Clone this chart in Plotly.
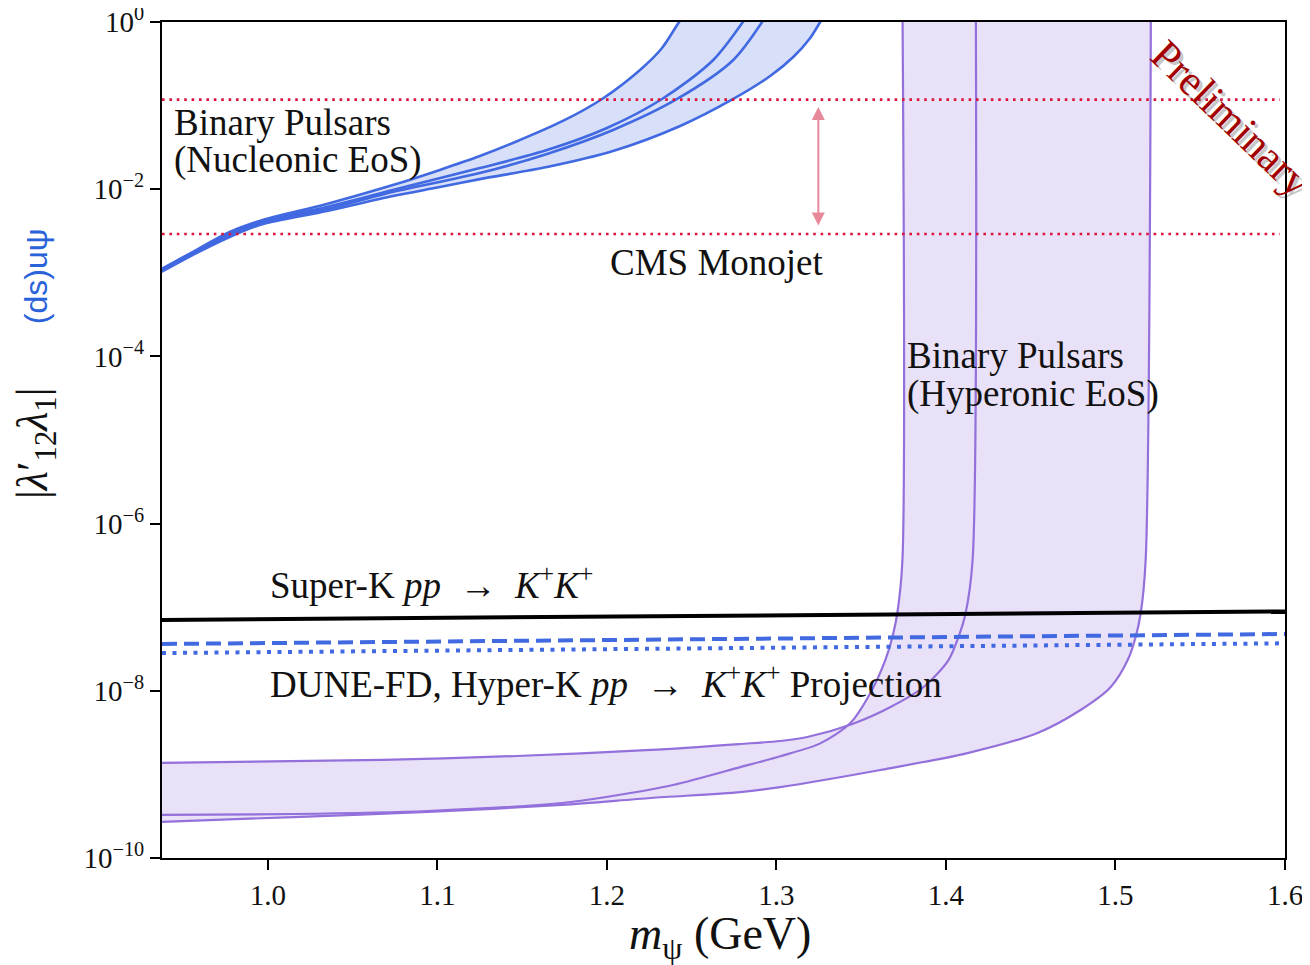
import math
import plotly.graph_objects as go

# ---------------- data (m_psi in GeV, coupling |lambda'_12 lambda_1|) ----------------
# Binary pulsars, nucleonic EoS band (4 curves)
nuc1_m = [0.936, 0.9555, 0.9774, 0.9951, 1.0347, 1.0737, 1.1014, 1.1250, 1.1445, 1.1740, 1.1971, 1.2195, 1.2325, 1.2414, 1.2483]
nuc1_y = [1.08e-3, 1.77e-3, 3.08e-3, 4.17e-3, 6.65e-3, 1.12e-2, 1.70e-2, 2.49e-2, 3.57e-2, 6.55e-2, 0.120, 0.267, 0.489, 0.921, 1.5]
nuc2_m = [0.936, 0.9774, 0.9951, 1.0347, 1.0736, 1.1250, 1.1646, 1.2000, 1.2325, 1.2627, 1.2862]
nuc2_y = [1.05e-3, 2.91e-3, 4.06e-3, 6.12e-3, 9.77e-3, 1.79e-2, 2.94e-2, 5.40e-2, 0.120, 0.351, 1.5]
nuc3_m = [0.936, 0.9774, 0.9951, 1.0347, 1.0736, 1.1250, 1.1646, 1.2036, 1.2414, 1.2745, 1.2972]
nuc3_y = [1.02e-3, 2.83e-3, 3.94e-3, 5.79e-3, 9.27e-3, 1.56e-2, 2.64e-2, 5.11e-2, 0.120, 0.351, 1.5]
nuc4_m = [0.936, 0.9555, 0.9774, 0.9951, 1.0347, 1.0737, 1.1014, 1.1250, 1.1646, 1.2036, 1.2432, 1.2745, 1.2963, 1.3099, 1.3199, 1.3258, 1.3312]
nuc4_y = [9.95e-4, 1.63e-3, 2.68e-3, 3.73e-3, 5.48e-3, 8.29e-3, 1.06e-2, 1.32e-2, 1.84e-2, 2.86e-2, 5.70e-2, 0.120, 0.226, 0.381, 0.644, 1.0, 1.5]

# Binary pulsars, hyperonic EoS (3 curves)
hypA_m = [1.3743, 1.3743, 1.3713, 1.3684, 1.3642, 1.3554, 1.3436, 1.3258, 1.3022, 1.2786, 1.2390, 1.1995, 1.1735, 1.0943, 1.0152, 0.936]
hypA_y = [2.0, 3.67e-7, 8.53e-8, 4.41e-8, 2.33e-8, 9.42e-9, 4.12e-9, 2.35e-9, 1.65e-9, 1.22e-9, 7.46e-10, 5.37e-10, 4.55e-10, 3.65e-10, 3.36e-10, 3.27e-10]
hypB_m = [1.4176, 1.4157, 1.4116, 1.4074, 1.4015, 1.3868, 1.3673, 1.3448, 1.3182, 1.3022, 1.2786, 1.2260, 1.1469, 1.0677, 0.936]
hypB_y = [2.0, 3.67e-7, 8.53e-8, 4.41e-8, 2.33e-8, 1.11e-8, 6.40e-9, 4.01e-9, 2.80e-9, 2.51e-9, 2.31e-9, 1.96e-9, 1.66e-9, 1.49e-9, 1.37e-9]
hypC_m = [1.5209, 1.5178, 1.5149, 1.5119, 1.5072, 1.4972, 1.4794, 1.4540, 1.4127, 1.3613, 1.3022, 1.2786, 1.2260, 1.1735, 1.0943, 1.0152, 0.936]
hypC_y = [2.0, 3.67e-7, 8.53e-8, 4.41e-8, 2.33e-8, 1.11e-8, 5.89e-9, 3.13e-9, 1.80e-9, 1.13e-9, 7.06e-10, 6.15e-10, 5.22e-10, 4.31e-10, 3.55e-10, 3.09e-10, 2.70e-10]

# Horizontal limits
line_m = [0.9375, 1.6]
superk_y = [7.03e-8, 8.89e-8]
dune_y = [3.63e-8, 4.78e-8]
hyperk_y = [2.83e-8, 3.70e-8]
cms_m = [0.9375, 1.597]
cms_upper_y = [0.118, 0.118]
cms_lower_y = [2.91e-3, 2.91e-3]

# Arrow between CMS lines
arrow_m = 1.3247
arrow_top = 0.096
arrow_bot = 3.53e-3

x_ticks = [1.0, 1.1, 1.2, 1.3, 1.4, 1.5, 1.6]
x_ticktext = ["1.0", "1.1", "1.2", "1.3", "1.4", "1.5", "1.6"]
y_ticks = [1e-10, 1e-8, 1e-6, 1e-4, 1e-2, 1]
y_ticktext = ["10<sup>−10</sup>", "10<sup>−8</sup>", "10<sup>−6</sup>", "10<sup>−4</sup>", "10<sup>−2</sup>", "10<sup>0</sup>"]

# ---------------- styles ----------------
BLUE = "#4169E1"
BLUE_FILL = "rgba(65,105,225,0.21)"
PURPLE = "#9370DB"
PURPLE_FILL = "#E8E1F7"
RED = "#DC143C"
SERIF = "Liberation Serif"
SP = "\u2002"

fig = go.Figure()

def fill_boundary(m, y):
    return go.Scatter(x=m, y=y, mode="lines", line=dict(width=0, shape="spline", smoothing=0.8),
                      hoverinfo="skip", showlegend=False)

# hyperonic fills (opaque, union of two bands)
fig.add_trace(fill_boundary(hypA_m, hypA_y))
t = fill_boundary(hypC_m, hypC_y); t.fill = "tonexty"; t.fillcolor = PURPLE_FILL
fig.add_trace(t)
fig.add_trace(fill_boundary(hypB_m, hypB_y))
t = fill_boundary(hypC_m, hypC_y); t.fill = "tonexty"; t.fillcolor = PURPLE_FILL
fig.add_trace(t)

# nucleonic fill
fig.add_trace(fill_boundary(nuc1_m, nuc1_y))
t = fill_boundary(nuc4_m, nuc4_y); t.fill = "tonexty"; t.fillcolor = BLUE_FILL
fig.add_trace(t)

# curve lines
for m, y in [(hypA_m, hypA_y), (hypB_m, hypB_y), (hypC_m, hypC_y)]:
    fig.add_trace(go.Scatter(x=m, y=y, mode="lines",
                             line=dict(color=PURPLE, width=2.2, shape="spline", smoothing=0.8),
                             hoverinfo="skip", showlegend=False))
for m, y in [(nuc1_m, nuc1_y), (nuc2_m, nuc2_y), (nuc3_m, nuc3_y), (nuc4_m, nuc4_y)]:
    fig.add_trace(go.Scatter(x=m, y=y, mode="lines",
                             line=dict(color=BLUE, width=2.6, shape="spline", smoothing=0.8),
                             hoverinfo="skip", showlegend=False))

# CMS monojet dotted lines
for y in (cms_upper_y, cms_lower_y):
    fig.add_trace(go.Scatter(x=cms_m, y=y, mode="lines",
                             line=dict(color=RED, width=2.6, dash="2.6px,4.8px"),
                             hoverinfo="skip", showlegend=False))

# Super-K and projections
fig.add_trace(go.Scatter(x=line_m, y=superk_y, mode="lines", line=dict(color="black", width=4),
                         hoverinfo="skip", showlegend=False))
fig.add_trace(go.Scatter(x=line_m, y=dune_y, mode="lines", line=dict(color=BLUE, width=4, dash="15px,7px"),
                         hoverinfo="skip", showlegend=False))
fig.add_trace(go.Scatter(x=line_m, y=hyperk_y, mode="lines", line=dict(color=BLUE, width=4, dash="4px,6.5px"),
                         hoverinfo="skip", showlegend=False))

def lg(v):
    return math.log10(v)

txt_font = dict(family=SERIF, size=37, color="#111111")
annotations = [
    dict(x=0.9432, y=-1.208, text="Binary Pulsars", xanchor="left", yanchor="middle"),
    dict(x=0.9432, y=-1.651, text="(Nucleonic EoS)", xanchor="left", yanchor="middle"),
    dict(x=1.2006, y=-2.871, text="CMS Monojet", xanchor="left", yanchor="middle"),
    dict(x=1.3761, y=-3.995, text="Binary Pulsars", xanchor="left", yanchor="middle"),
    dict(x=1.3761, y=-4.450, text="(Hyperonic EoS)", xanchor="left", yanchor="middle"),
    dict(x=1.0, y=-6.699,
         text="Super-K <i>pp</i>" + SP + "→" + SP + "<i>K</i><sup>+</sup><i>K</i><sup>+</sup>",
         xanchor="left", yanchor="middle"),
    dict(x=1.0, y=-7.883,
         text="DUNE-FD, Hyper-K <i>pp</i>" + SP + "→" + SP
              + "<i>K</i><sup>+</sup><i>K</i><sup>+</sup> Projection",
         xanchor="left", yanchor="middle"),
]
for a in annotations:
    a.update(xref="x", yref="y", showarrow=False, font=txt_font)

# double-headed arrow
annotations.append(dict(x=arrow_m, y=lg(arrow_top), ax=arrow_m, ay=lg(arrow_bot), xref="x", yref="y",
                        axref="x", ayref="y", text="", showarrow=True, arrowside="end+start",
                        arrowhead=2, arrowsize=1.3, arrowwidth=2, arrowcolor="#E8899B"))

# Preliminary stamp with shadow
annotations.append(dict(x=1.5686, y=-1.15, xref="x", yref="y", text="Preliminary", showarrow=False,
                        textangle=44, xshift=3, yshift=-3,
                        font=dict(family=SERIF, size=43, color="rgba(0,0,0,0.22)")))
annotations.append(dict(x=1.5686, y=-1.15, xref="x", yref="y", text="Preliminary", showarrow=False,
                        textangle=44, font=dict(family=SERIF, size=43, color="#A30000")))

# axis titles
annotations.append(dict(x=0.4969, y=-0.0945, xref="paper", yref="paper", showarrow=False,
                        text="<i>m</i><sub>ψ</sub> (GeV)", xanchor="center", yanchor="middle",
                        font=dict(family=SERIF, size=46, color="#111111")))
annotations.append(dict(x=-0.1131, y=0.4964, xref="paper", yref="paper", showarrow=False, textangle=-90,
                        text="|<i>λ</i>′<sub>12</sub><i>λ</i><sub>1</sub>|", xanchor="center", yanchor="middle",
                        font=dict(family=SERIF, size=44, color="#111111")))
annotations.append(dict(x=-0.1122, y=0.696, xref="paper", yref="paper", showarrow=False, textangle=-90,
                        text="(ds)uψ", xanchor="center", yanchor="middle",
                        font=dict(family="Liberation Sans", size=32, color="#2A62D9")))

fig.update_layout(
    width=1310, height=965,
    margin=dict(l=154, r=33, t=14, b=115, autoexpand=False),
    paper_bgcolor="white", plot_bgcolor="white",
    showlegend=False,
    annotations=annotations,
    font=dict(family=SERIF, color="#111111"),
)
fig.update_xaxes(range=[0.9375, 1.6], tickvals=x_ticks, ticktext=x_ticktext, ticks="outside",
                 ticklen=10, tickwidth=1.5, tickcolor="black", showgrid=False, zeroline=False,
                 showline=True, linecolor="black", linewidth=2, mirror=True, automargin=False,
                 ticklabeloverflow="allow",
                 tickfont=dict(family=SERIF, size=29, color="#111111"))
fig.update_yaxes(type="log", range=[-10, 0], tickvals=y_ticks, ticktext=y_ticktext, ticks="outside",
                 ticklen=10, tickwidth=1.5, tickcolor="black", showgrid=False, zeroline=False,
                 showline=True, linecolor="black", linewidth=2, mirror=True, automargin=False,
                 ticklabeloverflow="allow",
                 tickfont=dict(family=SERIF, size=29, color="#111111"))

fig.write_html("out.html")
